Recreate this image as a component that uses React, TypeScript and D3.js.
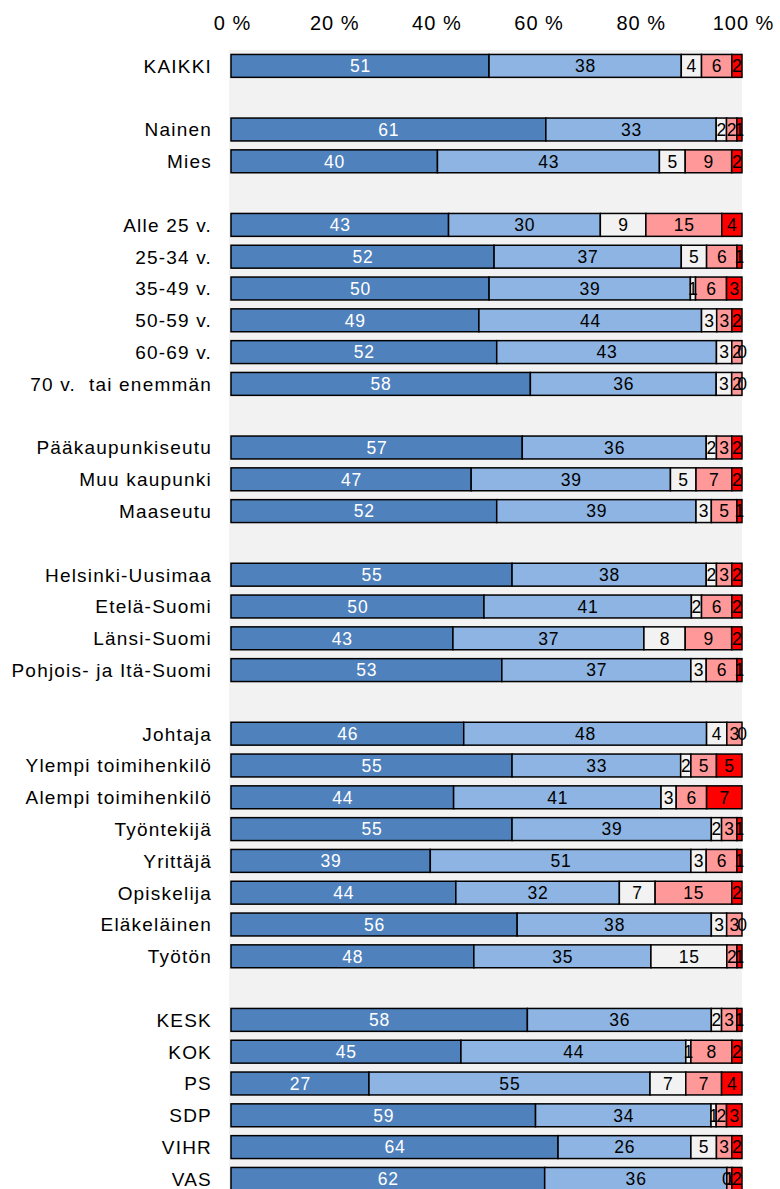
import React from 'react';
import * as d3 from 'd3';

// row labels, '' = spacer row between groups
const categories = [
  'KAIKKI', '',
  'Nainen', 'Mies', '',
  'Alle 25 v.', '25-34 v.', '35-49 v.', '50-59 v.', '60-69 v.', '70 v.  tai enemmän', '',
  'Pääkaupunkiseutu', 'Muu kaupunki', 'Maaseutu', '',
  'Helsinki-Uusimaa', 'Etelä-Suomi', 'Länsi-Suomi', 'Pohjois- ja Itä-Suomi', '',
  'Johtaja', 'Ylempi toimihenkilö', 'Alempi toimihenkilö', 'Työntekijä', 'Yrittäjä',
  'Opiskelija', 'Eläkeläinen', 'Työtön', '',
  'KESK', 'KOK', 'PS', 'SDP', 'VIHR', 'VAS',
];

const s1 = [51, null, 61, 40, null, 43, 52, 50, 49, 52, 58, null, 57, 47, 52, null, 55, 50, 43, 53, null, 46, 55, 44, 55, 39, 44, 56, 48, null, 58, 45, 27, 59, 64, 62];
const s2 = [38, null, 33, 43, null, 30, 37, 39, 44, 43, 36, null, 36, 39, 39, null, 38, 41, 37, 37, null, 48, 33, 41, 39, 51, 32, 38, 35, null, 36, 44, 55, 34, 26, 36];
const s3 = [4, null, 2, 5, null, 9, 5, 1, 3, 3, 3, null, 2, 5, 3, null, 2, 2, 8, 3, null, 4, 2, 3, 2, 3, 7, 3, 15, null, 2, 1, 7, 1, 5, 0];
const s4 = [6, null, 2, 9, null, 15, 6, 6, 3, 2, 2, null, 3, 7, 5, null, 3, 6, 9, 6, null, 3, 5, 6, 3, 6, 15, 3, 2, null, 3, 8, 7, 2, 3, 1];
const s5 = [2, null, 1, 2, null, 4, 1, 3, 2, 0, 0, null, 2, 2, 1, null, 2, 2, 2, 1, null, 0, 5, 7, 1, 1, 2, 0, 1, null, 1, 2, 4, 3, 2, 2];

const seriesValues = [s1, s2, s3, s4, s5];
const seriesColors = ['#4f81bd', '#8db4e2', '#f2f2f2', '#ff9999', '#ff0000'];
const labelColors = ['#ffffff', '#000000', '#000000', '#000000', '#000000'];

const xTicks = [0, 20, 40, 60, 80, 100];

const W = 780;
const H = 1189;
const FONT = '"Liberation Sans", Arial, sans-serif';

export default function App() {
  const x = d3.scaleLinear().domain([0, 100]).range([231, 742]);
  const y = d3
    .scaleBand<number>()
    .domain(d3.range(categories.length))
    .range([50, 50 + categories.length * 31.8])
    .paddingInner(0.28)
    .paddingOuter(0.14);

  const rows = categories.map((name, i) => {
    if (!name) return null;
    const vals = seriesValues.map((s) => s[i] as number);
    const total = d3.sum(vals);
    let acc = 0;
    const segs = vals.map((v, k) => {
      const x0 = (acc / total) * 100;
      acc += v;
      const x1 = (acc / total) * 100;
      return { k, v, x0, x1 };
    });
    return { name, i, segs };
  });

  return (
    <div style={{ position: 'absolute', left: 0, top: 0 }}>
      <svg width={W} height={H} style={{ display: 'block', fontFamily: FONT }}>
        <rect x={229} y={50} width={513} height={H - 50} fill="#f2f2f2" />

        {xTicks.map((t) => (
          <text key={t} x={x(t) + 1.5} y={30} fontSize={20} letterSpacing={1} textAnchor="middle" fill="#000" style={{ whiteSpace: 'pre' }}>
            {t} %
          </text>
        ))}

        {rows.map((r) => {
          if (!r) return null;
          const yy = y(r.i)!;
          const bh = y.bandwidth();
          const cy = yy + bh / 2;
          return (
            <g key={r.i}>
              <text x={212} y={cy} dy="0.36em" fontSize={19} letterSpacing={1.2} textAnchor="end" fill="#000" style={{ whiteSpace: 'pre' }}>
                {r.name}
              </text>
              {r.segs.map((s) => (
                <rect
                  key={s.k}
                  x={x(s.x0)}
                  y={yy}
                  width={Math.max(0, x(s.x1) - x(s.x0))}
                  height={bh}
                  fill={seriesColors[s.k]}
                  stroke="#000"
                  strokeWidth={1.5}
                />
              ))}
              {r.segs.map((s) => (
                <text
                  key={'l' + s.k}
                  x={(x(s.x0) + x(s.x1)) / 2 + 0.4}
                  y={cy}
                  dy="0.36em"
                  fontSize={17.5}
                  letterSpacing={0.8}
                  textAnchor="middle"
                  fill={labelColors[s.k]}
                >
                  {s.v}
                </text>
              ))}
            </g>
          );
        })}
      </svg>
    </div>
  );
}
